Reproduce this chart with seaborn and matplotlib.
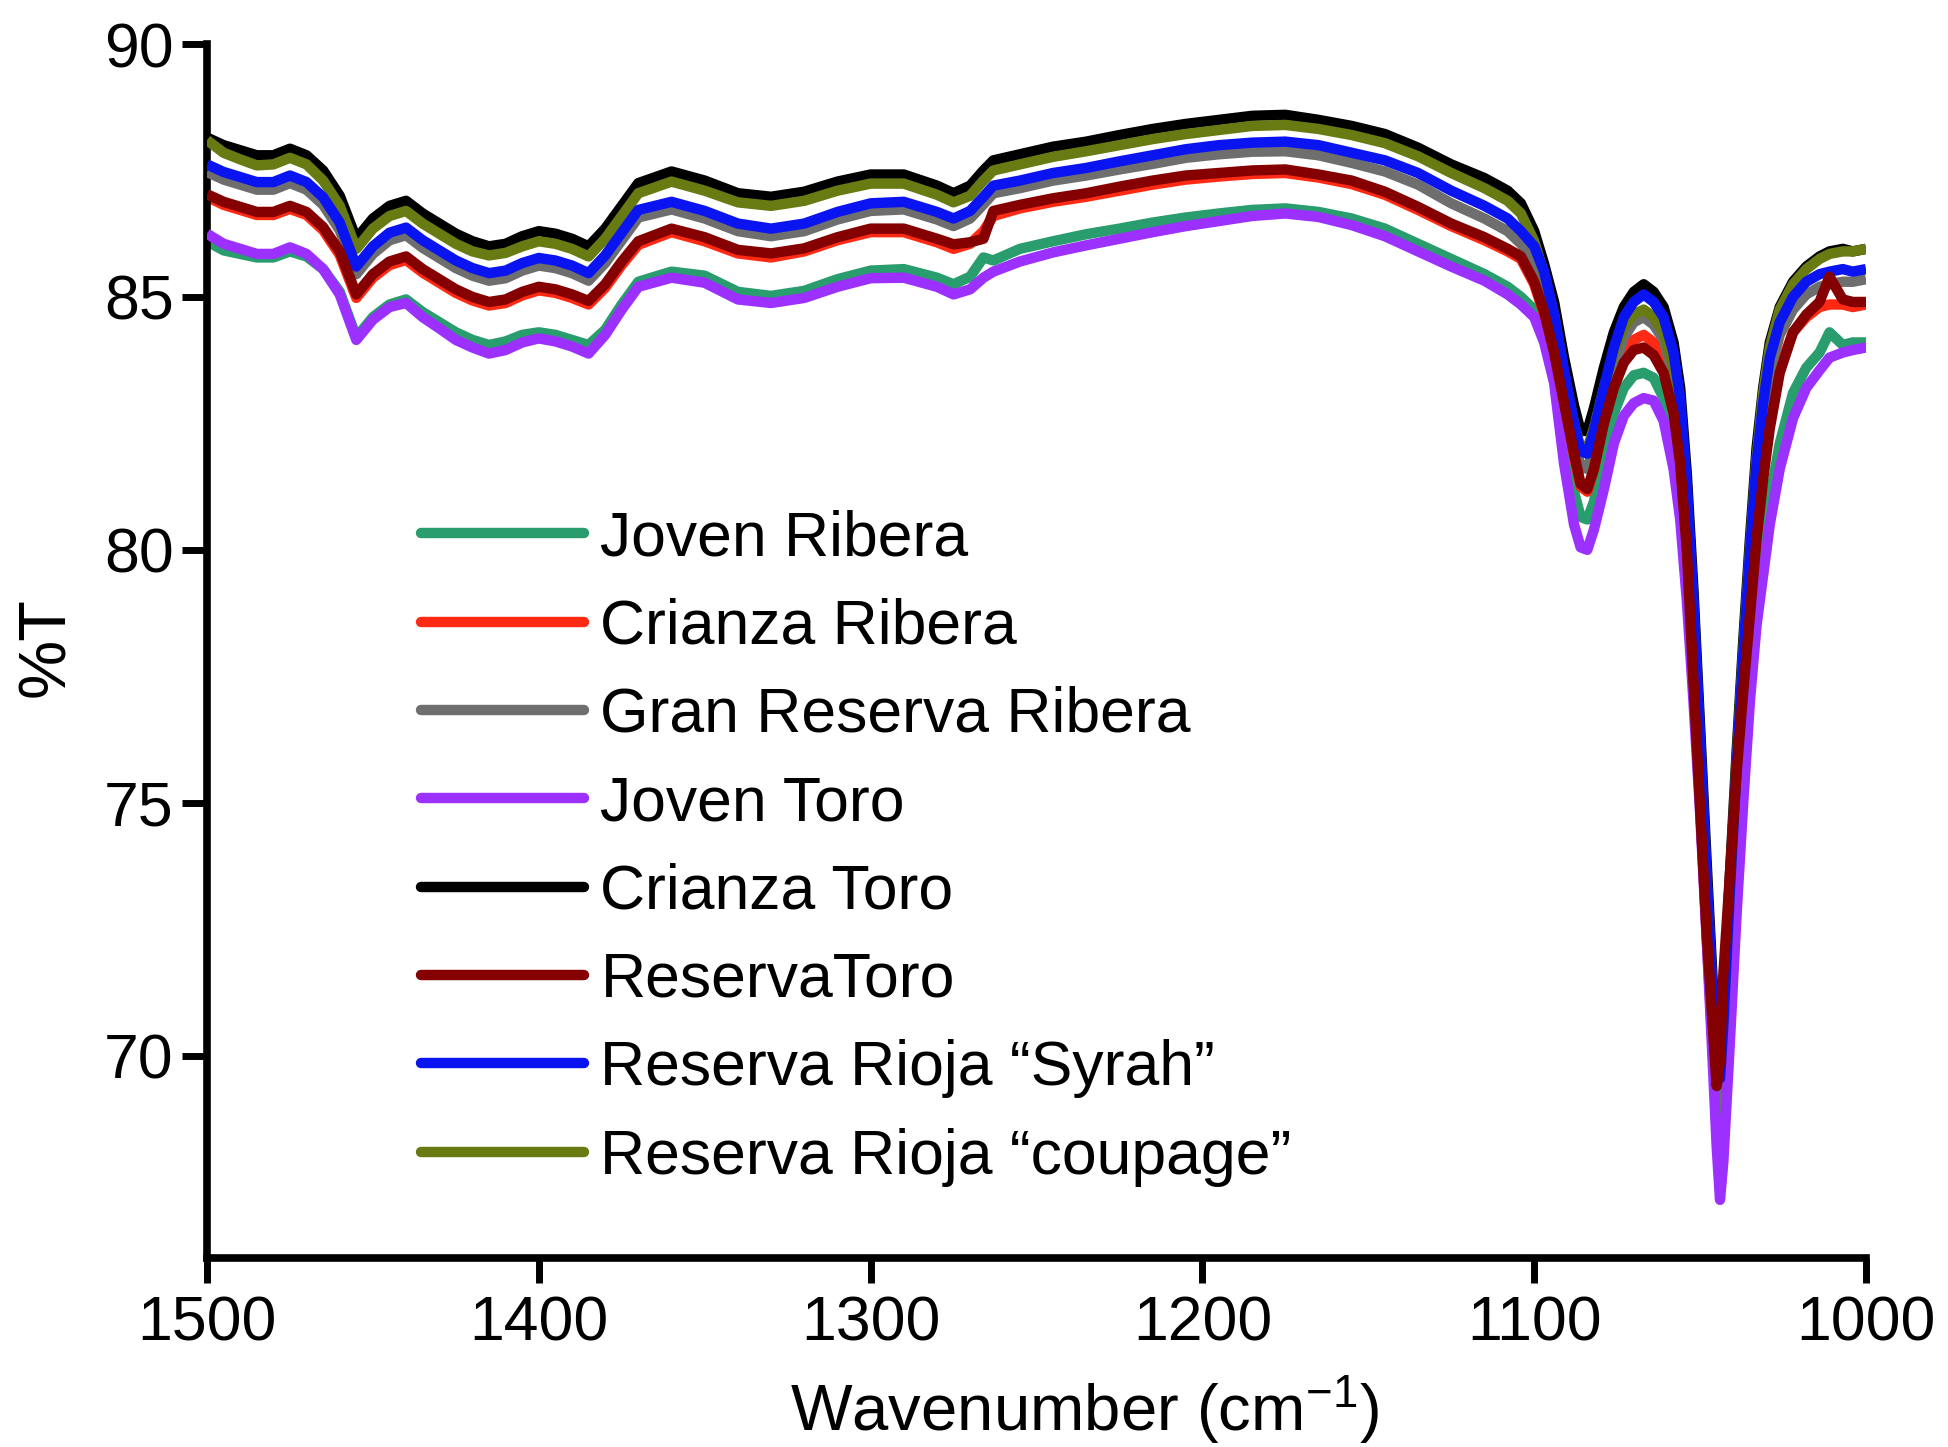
import numpy as np
import pandas as pd
import matplotlib
matplotlib.use("Agg")
import matplotlib.pyplot as plt
import seaborn as sns

# Wavenumber grid (cm-1), denser around the two absorption bands
wavenumber = [
    1500, 1495, 1490, 1485, 1480, 1475, 1470, 1465, 1460, 1455, 1450, 1445, 1440, 1435,
    1430, 1425, 1420, 1415, 1410, 1405, 1400, 1395, 1390, 1385, 1380, 1375, 1370,
    1360, 1350, 1340, 1330, 1320, 1310, 1300, 1290, 1280, 1275, 1270, 1266, 1263,
    1255, 1245, 1235, 1225, 1215, 1205, 1195, 1185, 1175, 1165, 1155, 1145, 1135, 1125,
    1115, 1108, 1104,
    1100, 1097, 1094, 1091, 1088, 1086, 1084, 1082, 1079, 1076, 1073, 1070, 1067, 1064,
    1061, 1058, 1056, 1054, 1052, 1050, 1048, 1046, 1045, 1044, 1043, 1041, 1039, 1037,
    1035, 1033, 1031, 1029, 1026, 1022, 1018, 1014, 1011, 1007, 1004, 1000,
]

joven_ribera = [
    86.1, 85.92, 85.85, 85.78, 85.78, 85.9, 85.8, 85.55, 85.1, 84.2, 84.6, 84.85, 84.95, 84.7,
    84.5, 84.3, 84.15, 84.05, 84.12, 84.25, 84.3, 84.25, 84.15, 84.05, 84.35, 84.85, 85.3,
    85.5, 85.42, 85.1, 85.02, 85.12, 85.35, 85.52, 85.55, 85.38, 85.25, 85.4, 85.78, 85.72,
    85.95, 86.1, 86.24, 86.35, 86.47, 86.57, 86.65, 86.72, 86.75, 86.68, 86.55, 86.35, 86.05, 85.75,
    85.45, 85.2, 85.0,
    84.75, 84.3, 83.55, 82.3, 81.15, 80.65, 80.6, 80.95, 81.85, 82.7, 83.2, 83.45, 83.5, 83.4,
    83.0, 82.1, 81.1, 79.5, 77.4, 75.1, 72.6, 69.9, 68.5, 67.5, 68.3, 70.8, 73.3, 75.5,
    77.5, 79.0, 80.1, 81.0, 82.1, 83.1, 83.6, 83.9, 84.3, 84.05, 84.1, 84.1,
]

crianza_ribera = [
    86.98, 86.82, 86.72, 86.62, 86.62, 86.74, 86.62, 86.32, 85.83, 84.98, 85.38, 85.63, 85.73, 85.48,
    85.28, 85.08, 84.93, 84.83, 84.88, 85.03, 85.13, 85.08, 84.98, 84.85, 85.18, 85.63, 86.03,
    86.28, 86.1, 85.86, 85.78, 85.9, 86.12, 86.28, 86.28, 86.08, 85.95, 86.05, 86.3, 86.6,
    86.75, 86.88, 86.98, 87.1, 87.22, 87.32, 87.38, 87.43, 87.45, 87.36, 87.23, 87.02, 86.72, 86.4,
    86.12, 85.9, 85.75,
    85.25, 84.65, 83.85, 82.85, 81.85, 81.25, 81.15, 81.6, 82.55, 83.35, 83.9, 84.15, 84.25, 84.1,
    83.75, 82.95, 81.95, 80.2, 77.7, 75.0, 72.3, 69.9, 68.95, 68.8, 69.9, 72.7, 75.1, 77.2,
    78.9, 80.4, 81.6, 82.6, 83.6, 84.3, 84.6, 84.8, 84.85, 84.85, 84.8, 84.85,
]

gran_reserva_ribera = [
    87.47, 87.32, 87.22, 87.12, 87.12, 87.25, 87.12, 86.82, 86.32, 85.45, 85.85, 86.12, 86.22, 85.97,
    85.77, 85.57, 85.42, 85.32, 85.37, 85.52, 85.62, 85.57, 85.47, 85.32, 85.67, 86.12, 86.57,
    86.73, 86.55, 86.3, 86.2, 86.3, 86.53, 86.7, 86.73, 86.53, 86.4, 86.55, 86.83, 87.05,
    87.15, 87.3, 87.4, 87.52, 87.63, 87.75, 87.82, 87.87, 87.88, 87.8, 87.65, 87.48, 87.22, 86.85,
    86.55, 86.3, 86.05,
    85.7, 85.15, 84.3, 83.2, 82.15, 81.65, 81.6, 82.0, 82.85, 83.6, 84.2, 84.5, 84.6, 84.45,
    84.15, 83.4, 82.5, 80.8, 78.4, 75.6, 72.8, 70.0, 68.6, 68.2, 69.4, 72.3, 75.0, 77.3,
    79.4, 81.2, 82.5, 83.5, 84.25, 84.75, 85.05, 85.2, 85.25, 85.3, 85.3, 85.35,
]

joven_toro = [
    86.25, 86.05, 85.95, 85.85, 85.85, 85.98, 85.85, 85.55, 85.05, 84.15, 84.55, 84.8, 84.88, 84.6,
    84.38, 84.15, 84.0, 83.88, 83.95, 84.1, 84.18, 84.12, 84.02, 83.88, 84.25, 84.75, 85.2,
    85.38, 85.28, 84.95, 84.88, 84.98, 85.2, 85.37, 85.38, 85.2, 85.05, 85.15, 85.38, 85.5,
    85.7, 85.88, 86.02, 86.15, 86.28, 86.4, 86.5, 86.6, 86.65, 86.58, 86.42, 86.2, 85.9, 85.6,
    85.32, 85.05, 84.85,
    84.6, 84.1, 83.3, 81.7, 80.5, 80.05, 80.0, 80.4, 81.2, 82.1, 82.65, 82.9, 83.0, 82.95,
    82.55, 81.6, 80.6, 79.0, 77.0, 74.8, 72.3, 69.6, 68.2, 67.15, 67.9, 70.3, 72.8, 75.0,
    77.0, 78.5, 79.5, 80.5, 81.6, 82.6, 83.2, 83.55, 83.8, 83.9, 83.95, 84.0,
]

crianza_toro = [
    88.15, 88.0, 87.9, 87.8, 87.8, 87.93, 87.8, 87.5, 87.0, 86.15, 86.55, 86.8, 86.9, 86.65,
    86.45, 86.25, 86.1, 86.0, 86.05, 86.2, 86.3, 86.25, 86.15, 86.0, 86.35, 86.8, 87.25,
    87.48, 87.3, 87.05, 86.98, 87.08, 87.28, 87.42, 87.42, 87.2, 87.05, 87.2, 87.5, 87.7,
    87.82, 87.97, 88.07, 88.2, 88.32, 88.42, 88.5, 88.58, 88.6, 88.5, 88.38, 88.22, 87.95, 87.62,
    87.35, 87.1, 86.85,
    86.3, 85.65, 84.9, 83.8, 82.85, 82.35, 82.35, 82.8, 83.6, 84.3, 84.8, 85.1, 85.25, 85.1,
    84.8, 84.1, 83.2, 81.5, 79.2, 76.5, 73.8, 71.2, 70.1, 69.85, 70.9, 73.6, 76.0, 78.2,
    80.2, 82.0, 83.2, 84.1, 84.8, 85.3, 85.6, 85.8, 85.9, 85.95, 85.9, 85.95,
]

reserva_toro = [
    87.03, 86.88, 86.78, 86.68, 86.68, 86.8, 86.68, 86.38, 85.9, 85.05, 85.45, 85.7, 85.8, 85.55,
    85.35, 85.15, 85.0, 84.9, 84.95, 85.1, 85.2, 85.15, 85.05, 84.92, 85.25, 85.7, 86.1,
    86.35, 86.18, 85.93, 85.86, 85.96, 86.18, 86.35, 86.35, 86.15, 86.04, 86.08, 86.15, 86.7,
    86.82, 86.95, 87.05, 87.18, 87.3, 87.4, 87.45, 87.5, 87.52, 87.42, 87.3, 87.08, 86.78, 86.45,
    86.18, 85.95, 85.8,
    85.3, 84.7, 83.9, 82.9, 81.9, 81.3, 81.2, 81.6, 82.5, 83.2, 83.7, 83.95, 84.0, 83.85,
    83.5, 82.7, 81.7, 80.0, 77.4, 74.9, 72.4, 70.4, 69.4, 69.9, 71.6, 73.6, 75.6, 77.2,
    78.7, 80.2, 81.4, 82.4, 83.5, 84.3, 84.65, 84.9, 85.4, 84.95, 84.9, 84.9,
]

reserva_rioja_syrah = [
    87.62, 87.47, 87.37, 87.27, 87.27, 87.4, 87.27, 86.97, 86.47, 85.6, 86.0, 86.27, 86.37, 86.12,
    85.92, 85.72, 85.57, 85.47, 85.52, 85.67, 85.77, 85.72, 85.62, 85.47, 85.82, 86.27, 86.72,
    86.88, 86.7, 86.45, 86.35, 86.45, 86.68, 86.85, 86.88, 86.68, 86.55, 86.7, 86.98, 87.2,
    87.3, 87.45, 87.55, 87.68, 87.8, 87.92, 88.0, 88.05, 88.07, 88.0, 87.85, 87.7, 87.45, 87.1,
    86.8, 86.55, 86.3,
    86.0, 85.5, 84.65, 83.55, 82.5, 81.95, 81.9, 82.35, 83.2, 84.0, 84.6, 84.9, 85.05, 84.9,
    84.6, 83.9, 83.0, 81.3, 79.0, 76.3, 73.5, 70.9, 69.8, 69.55, 70.6, 73.3, 75.7, 77.9,
    79.9, 81.7, 82.9, 83.8, 84.5, 85.0, 85.3, 85.45, 85.5, 85.55, 85.5, 85.55,
]

reserva_rioja_coupage = [
    88.1, 87.85, 87.72, 87.6, 87.62, 87.75, 87.62, 87.3, 86.8, 85.95, 86.35, 86.6, 86.7, 86.45,
    86.25, 86.05, 85.9, 85.82, 85.87, 86.0, 86.1, 86.05, 85.95, 85.8, 86.15, 86.6, 87.05,
    87.28, 87.1, 86.87, 86.8, 86.9, 87.1, 87.24, 87.24, 87.02, 86.87, 87.0, 87.3, 87.5,
    87.62, 87.77, 87.88, 88.0, 88.12, 88.22, 88.3, 88.38, 88.4, 88.32, 88.2, 88.04, 87.78, 87.45,
    87.15, 86.9, 86.65,
    86.1, 85.45, 84.65, 83.5, 82.5, 82.0, 82.0, 82.4, 83.2, 83.9, 84.4, 84.65, 84.75, 84.6,
    84.3, 83.6, 82.7, 81.1, 78.8, 76.1, 73.4, 70.9, 69.9, 69.7, 70.7, 73.4, 75.8, 78.0,
    80.0, 81.8, 83.1, 84.0, 84.75, 85.25, 85.55, 85.75, 85.85, 85.9, 85.9, 85.95,
]

labels = [
    "Joven Ribera",
    "Crianza Ribera",
    "Gran Reserva Ribera",
    "Joven Toro",
    "Crianza Toro",
    "ReservaToro",
    "Reserva Rioja \u201cSyrah\u201d",
    "Reserva Rioja \u201ccoupage\u201d",
]
series = [joven_ribera, crianza_ribera, gran_reserva_ribera, joven_toro,
          crianza_toro, reserva_toro, reserva_rioja_syrah, reserva_rioja_coupage]
colors = ["#2a9d6f", "#ff2a14", "#6e6e6e", "#9b30ff",
          "#000000", "#850000", "#0a14f0", "#687a12"]
# stacking order of the traces (higher draws on top)
layer = [1, 2, 3, 4, 5, 8, 7, 6]

for s in series:
    assert len(s) == len(wavenumber)

sns.set_theme(style="ticks")
plt.rcParams["font.family"] = ["Liberation Sans", "DejaVu Sans"]
plt.rcParams["mathtext.fontset"] = "custom"
plt.rcParams["mathtext.rm"] = "Liberation Sans"
plt.rcParams["mathtext.default"] = "regular"
plt.rcParams["text.color"] = "black"
plt.rcParams["axes.labelcolor"] = "black"
plt.rcParams["xtick.color"] = "black"
plt.rcParams["ytick.color"] = "black"

fig = plt.figure(figsize=(19.48, 14.47), dpi=100)
ax = fig.add_axes([207 / 1948, 1 - 1258 / 1447, (1866 - 207) / 1948, (1258 - 44) / 1447])

lw = 7.5
for lab, vals, col, z in zip(labels, series, colors, layer):
    df = pd.DataFrame({"wavenumber": wavenumber, "T": vals})
    sns.lineplot(data=df, x="wavenumber", y="T", ax=ax, color=col, linewidth=lw,
                 estimator=None, label=lab, zorder=z, legend=False,
                 solid_joinstyle="round", solid_capstyle="butt")

ax.set_xlim(1500, 1000)
ax.set_ylim(66, 90)
ax.set_xticks([1500, 1400, 1300, 1200, 1100, 1000])
ax.set_yticks([70, 75, 80, 85, 90])

for side in ("top", "right"):
    ax.spines[side].set_visible(False)
for side in ("left", "bottom"):
    ax.spines[side].set_linewidth(5.5)
    ax.spines[side].set_color("black")
    ax.spines[side].set_capstyle("projecting")

ax.tick_params(axis="both", which="major", direction="out", length=18, width=5,
               color="black", labelsize=45, labelcolor="black")
ax.tick_params(axis="x", pad=8)
ax.tick_params(axis="y", pad=6)

ax.set_xlabel(r"Wavenumber (cm$^{\mathregular{-1}}$)", fontsize=47, color="black",
              va="center")
ax.xaxis.set_label_coords((1084 - 207) / 1659, (1258 - 1410) / 1214)
ax.set_ylabel("%T", fontsize=48, color="black", va="center")
ax.yaxis.set_label_coords((47 - 207) / 1659, (1258 - 647) / 1214)

handles = [plt.Line2D([], [], color=c, linewidth=lw) for c in colors]
leg = ax.legend(handles, labels, loc="upper left",
                bbox_to_anchor=(421 / 1948, 1 - 509 / 1447),
                bbox_transform=fig.transFigure, frameon=False,
                fontsize=45, borderpad=0, borderaxespad=0,
                handlelength=2.6, handletextpad=0.27, labelspacing=0.47,
                labelcolor="black")

ax.set_facecolor("white")
fig.patch.set_facecolor("white")
fig.savefig("out.png", dpi=100, facecolor="white")
